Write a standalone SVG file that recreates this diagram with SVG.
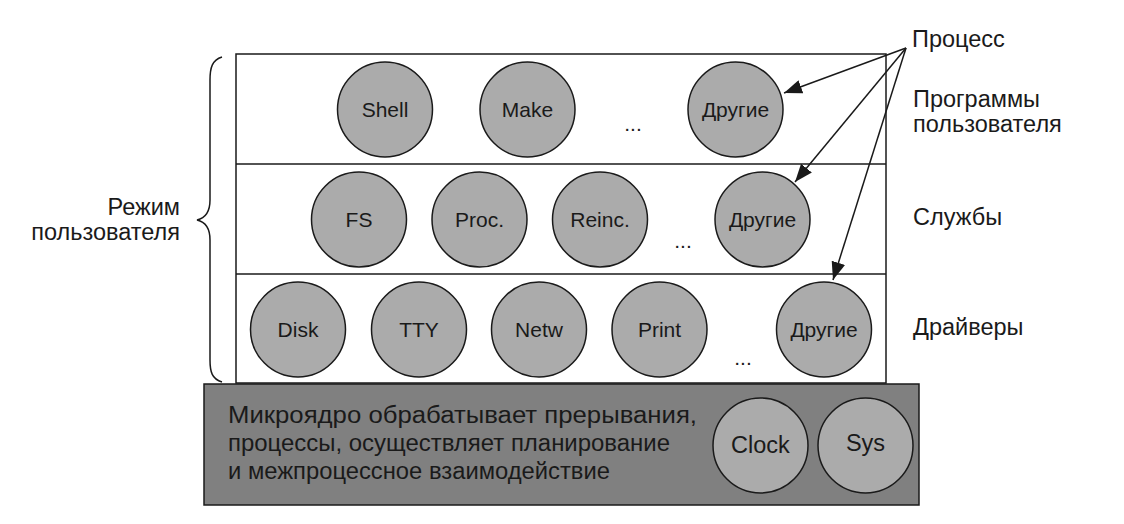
<svg xmlns="http://www.w3.org/2000/svg" width="1124" height="524" viewBox="0 0 1124 524">
<style>
text{font-family:"Liberation Sans",Arial,sans-serif;fill:#1a1a1a}
.c{fill:#ababab;stroke:#1a1a1a;stroke-width:1.5}
.lbl{font-size:21px;text-anchor:middle}
.big{font-size:23.5px}
.side{font-size:23.5px}
.k{font-size:23px}
.ln{stroke:#1a1a1a;stroke-width:1.5;fill:none}
</style>
<defs>
<marker id="ah" markerUnits="userSpaceOnUse" markerWidth="20" markerHeight="14" refX="18" refY="7" orient="auto">
<path d="M0,0 L18,7 L0,14 Z" fill="#1a1a1a"/>
</marker>
</defs>
<rect width="1124" height="524" fill="#fff"/>
<g id="frame">
<rect x="236" y="54" width="650" height="329" fill="#fff" stroke="#1a1a1a" stroke-width="1.5"/>
<line class="ln" x1="236" y1="164" x2="886" y2="164"/>
<line class="ln" x1="236" y1="274" x2="886" y2="274"/>
</g>
<g id="kernel">
<rect x="204" y="384" width="715" height="121" fill="#808080" stroke="#1a1a1a" stroke-width="1.5"/>
<text class="k" x="228" y="423" textLength="469" lengthAdjust="spacingAndGlyphs">Микроядро обрабатывает прерывания,</text>
<text class="k" x="228" y="451" textLength="442" lengthAdjust="spacingAndGlyphs">процессы, осуществляет планирование</text>
<text class="k" x="228" y="479" textLength="382" lengthAdjust="spacingAndGlyphs">и межпроцессное взаимодействие</text>
</g>
<g id="n-shell"><circle class="c" cx="385" cy="109.5" r="47.5"/><text class="lbl" x="385" y="117">Shell</text></g>
<g id="n-make"><circle class="c" cx="527.5" cy="109.5" r="47.5"/><text class="lbl" x="527.5" y="117">Make</text></g>
<g id="n-other1"><circle class="c" cx="735.5" cy="109.5" r="47.5"/><text class="lbl" x="735.5" y="117">Другие</text></g>
<text class="lbl" x="633" y="131">...</text>
<g id="n-fs"><circle class="c" cx="359" cy="219.5" r="47.5"/><text class="lbl" x="359" y="227">FS</text></g>
<g id="n-proc"><circle class="c" cx="479.5" cy="219.5" r="47.5"/><text class="lbl" x="479.5" y="227">Proc.</text></g>
<g id="n-reinc"><circle class="c" cx="600" cy="219.5" r="47.5"/><text class="lbl" x="600" y="227">Reinc.</text></g>
<g id="n-other2"><circle class="c" cx="762.5" cy="219.5" r="47.5"/><text class="lbl" x="762.5" y="227">Другие</text></g>
<text class="lbl" x="683" y="248">...</text>
<g id="n-disk"><circle class="c" cx="298" cy="329.5" r="47.5"/><text class="lbl" x="298" y="337">Disk</text></g>
<g id="n-tty"><circle class="c" cx="419" cy="329.5" r="47.5"/><text class="lbl" x="419" y="337">TTY</text></g>
<g id="n-netw"><circle class="c" cx="539" cy="329.5" r="47.5"/><text class="lbl" x="539" y="337">Netw</text></g>
<g id="n-print"><circle class="c" cx="659.5" cy="329.5" r="47.5"/><text class="lbl" x="659.5" y="337">Print</text></g>
<g id="n-other3"><circle class="c" cx="824" cy="329.5" r="47.5"/><text class="lbl" x="824" y="337">Другие</text></g>
<text class="lbl" x="743" y="365">...</text>
<g id="n-clock"><circle class="c" cx="760.5" cy="445.5" r="47.5"/><text class="lbl big" x="760.5" y="453">Clock</text></g>
<g id="n-sys"><circle class="c" cx="865.5" cy="445.5" r="47.5"/><text class="lbl big" x="865.5" y="451">Sys</text></g>
<g id="labels">
<text class="side" x="912" y="47">Процесс</text>
<text class="side" x="913" y="107">Программы</text>
<text class="side" x="913" y="132">пользователя</text>
<text class="side" x="913" y="225">Службы</text>
<text class="side" x="913" y="335">Драйверы</text>
<text class="side" x="180" y="215" text-anchor="end">Режим</text>
<text class="side" x="180" y="240" text-anchor="end">пользователя</text>
</g>
<g id="connectors">
<line class="ln" x1="906" y1="48" x2="784" y2="93" marker-end="url(#ah)"/>
<line class="ln" x1="906" y1="48" x2="795" y2="182" marker-end="url(#ah)"/>
<line class="ln" x1="906" y1="48" x2="833" y2="280" marker-end="url(#ah)"/>
<path class="ln" d="M222,57 C212,60 210,68 210,80 L210,200 C210,212 206,218 197,220 C206,222 210,228 210,240 L210,360 C210,372 212,379 222,382"/>
</g>
</svg>
